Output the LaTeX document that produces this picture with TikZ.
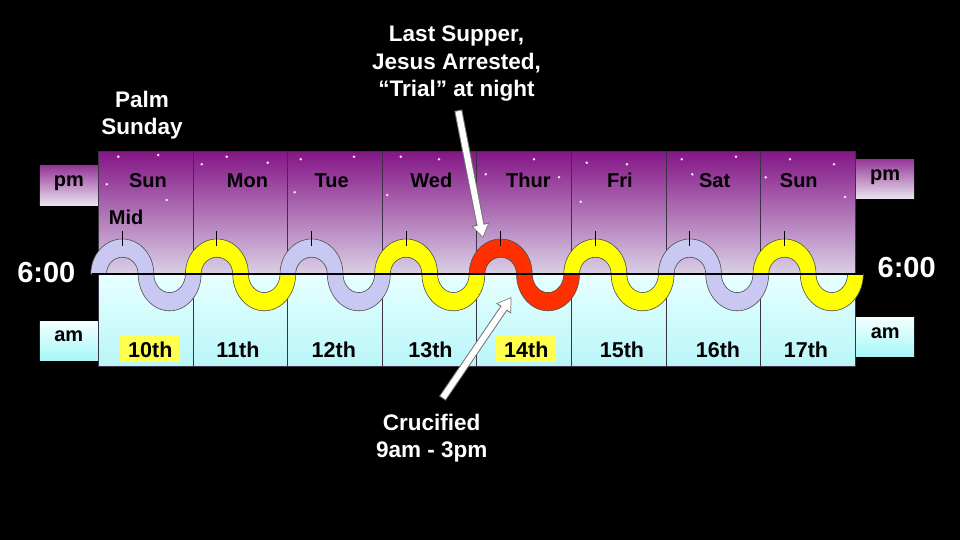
\documentclass[tikz,border=0pt]{standalone}
\usepackage{fontspec}
\setmainfont{Liberation Sans}
\usepackage{xcolor}
\usepackage{tikz}
\usetikzlibrary{arrows.meta, positioning}
\definecolor{nighttop}{RGB}{132, 22, 134}
\definecolor{nightlow}{RGB}{218, 208, 230}
\definecolor{daytop}{RGB}{232, 255, 255}
\definecolor{daylow}{RGB}{184, 246, 248}
\definecolor{lavcolor}{RGB}{200, 200, 242}
\definecolor{suncolor}{RGB}{255, 255, 0}
\definecolor{bloodcolor}{RGB}{255, 48, 0}
\definecolor{hilitecolor}{RGB}{255, 255, 80}
\definecolor{gridcolor}{RGB}{60, 50, 70}

\begin{document}
\begin{tikzpicture}[
    x=1pt, y=-1pt,
    daytext/.style={font=\fontsize{20}{24}\selectfont\bfseries, anchor=base, inner sep=0pt},
    datetext/.style={font=\fontsize{21.5}{24}\selectfont\bfseries, anchor=base, inner sep=0pt},
    callout/.style={font=\fontsize{22.5}{27.3}\selectfont\bfseries, text=white, align=center, inner sep=0pt},
    clock/.style={font=\fontsize{29}{32}\selectfont\bfseries, text=white, anchor=base, inner sep=0pt},
    pmbox/.style={top color=nighttop!85!white, bottom color=nightlow!60!white, minimum width=58pt, minimum height=39pt, inner sep=0pt, text height=10pt, text depth=8pt, font=\fontsize{20}{24}\selectfont\bfseries},
    ambox/.style={pmbox, top color=daytop!50!white, bottom color=daylow!90!cyan},
    hilite/.style={fill=hilitecolor, minimum width=60pt, minimum height=26pt},
    gridline/.style={draw=gridcolor, line width=0.8pt},
    bandline/.style={draw=black!70, line width=0.6pt},
    tickline/.style={line width=1.1pt},
    star/.style={fill=white!90!magenta},
    arrowedge/.style={line width=8pt, draw=black!55, -{Triangle[length=14pt, width=17pt]}},
    arrowbody/.style={line width=6pt, draw=white, -{Triangle[length=11.5pt, width=14pt]}, shorten >=1.4pt},
    pics/dayband/.style={code={
        \filldraw[bandline, fill=#1] (-31.5,0)
            arc[start angle=180, end angle=360, x radius=31.5, y radius=35]
            arc[start angle=180, end angle=0, x radius=15.8, y radius=18.6]
            -- (78.8,0)
            arc[start angle=0, end angle=180, x radius=31.5, y radius=36.8]
            arc[start angle=360, end angle=180, x radius=15.8, y radius=16.8]
            -- cycle;
        \draw[tickline] (0,-43) -- (0,-28);
    }},
]
    \useasboundingbox (0,0) rectangle (960,540);
    \fill[black] (0,0) rectangle (960,540);

    % Night and day halves
    \shade[top color=nighttop, bottom color=nightlow] (98.3,151.7) rectangle (855.1,274);
    \shade[top color=daytop, bottom color=daylow] (98.3,274) rectangle (855.1,366.7);

    % Stars
    \fill[star] (118.3,156.7) circle[radius=1.4] (158.3,155) circle[radius=1.4]
        (106.7,184.3) circle[radius=1.4] (166.7,200) circle[radius=1.4]
        (201.7,164.3) circle[radius=1.4] (226.7,156.7) circle[radius=1.4]
        (267.7,162.7) circle[radius=1.4] (294.7,192.3) circle[radius=1.4]
        (300.7,159.3) circle[radius=1.4] (354,156.7) circle[radius=1.4]
        (387.3,195) circle[radius=1.4] (400.7,156.7) circle[radius=1.4]
        (439,159.3) circle[radius=1.4] (485.7,174.3) circle[radius=1.4]
        (534,159.3) circle[radius=1.4] (559,177.3) circle[radius=1.4]
        (586.7,162.7) circle[radius=1.4] (627,164.3) circle[radius=1.4]
        (580.7,201.7) circle[radius=1.4] (681.7,159.3) circle[radius=1.4]
        (736,156.7) circle[radius=1.4] (692.3,174.3) circle[radius=1.4]
        (790,159.3) circle[radius=1.4] (834,164.3) circle[radius=1.4]
        (765.7,177.3) circle[radius=1.4] (845,197) circle[radius=1.4];

    % Day columns
    \draw[gridline] (98.3,151.7) rectangle (855.1,366.7)
        (192.9,151.7) -- (192.9,366.7) (287.5,151.7) -- (287.5,366.7)
        (382.1,151.7) -- (382.1,366.7) (476.7,151.7) -- (476.7,366.7)
        (571.3,151.7) -- (571.3,366.7) (665.9,151.7) -- (665.9,366.7)
        (760.5,151.7) -- (760.5,366.7);

    % pm / am tags
    \node[pmbox] (pmLeft) at (68.8,185.5) {pm};
    \node[ambox] (amLeft) at (68.8,340.8) {am};
    \node[pmbox] (pmRight) at (885.2,179.2) {pm};
    \node[ambox] (amRight) at (885.2,337.2) {am};

    % Day names
    \node[daytext] (sunA) at (148,187.7) {Sun};
    \node[daytext] (mon) at (247.5,187.7) {Mon};
    \node[daytext] (tue) at (331.7,187.7) {Tue};
    \node[daytext] (wed) at (431.3,187.7) {Wed};
    \node[daytext] (thur) at (528.3,187.7) {Thur};
    \node[daytext] (fri) at (620,187.7) {Fri};
    \node[daytext] (sat) at (714.7,187.7) {Sat};
    \node[daytext] (sunB) at (798.8,187.7) {Sun};
    \node[daytext] (mid) at (126.2,224.3) {Mid};

    % Dates
    \node[datetext, hilite] (d10) at (150.3,357) {10th};
    \node[datetext] (d11) at (238,357) {11th};
    \node[datetext] (d12) at (333.8,357) {12th};
    \node[datetext] (d13) at (430.5,357) {13th};
    \node[datetext, hilite] (d14) at (526.3,357) {14th};
    \node[datetext] (d15) at (622,357) {15th};
    \node[datetext] (d16) at (718,357) {16th};
    \node[datetext] (d17) at (806,357) {17th};

    % Evening-to-evening wave
    \pic at (122.3,274) {dayband=lavcolor};
    \pic at (216.9,274) {dayband=suncolor};
    \pic at (311.5,274) {dayband=lavcolor};
    \pic at (406.1,274) {dayband=suncolor};
    \pic at (500.7,274) {dayband=bloodcolor};
    \pic at (595.3,274) {dayband=suncolor};
    \pic at (689.9,274) {dayband=lavcolor};
    \pic at (784.5,274) {dayband=suncolor};
    \draw[line width=2pt] (92,274) -- (863,274);

    \node[clock] (sixLeft) at (46.3,282.7) {6:00};
    \node[clock] (sixRight) at (906.7,277.3) {6:00};

    % Callouts
    \node[callout] (palm) at (142,115.3) {Palm\\Sunday};
    \node[callout] (supper) at (456.5,63.6) {Last Supper,\\Jesus Arrested,\\“Trial” at night};
    \node[callout] (crucified) at (431.7,438.5) {Crucified\\9am - 3pm};

    \coordinate (supperTip) at (483,238);
    \coordinate (crossTip) at (511.5,297);
    \draw[arrowedge, shorten <=9pt] (supper.south) -- (supperTip);
    \draw[arrowbody, shorten <=10pt] (supper.south) -- (supperTip);
    \draw[arrowedge, shorten <=19pt] (crucified.north) -- (crossTip);
    \draw[arrowbody, shorten <=20pt] (crucified.north) -- (crossTip);
\end{tikzpicture}
\end{document}
